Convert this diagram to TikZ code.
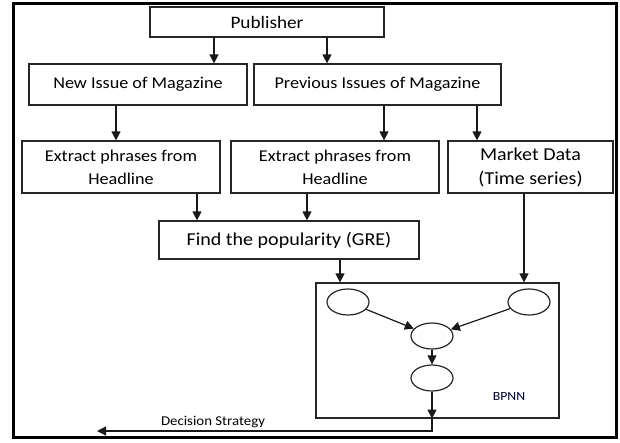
\documentclass[tikz,border=0pt]{standalone}
\usepackage{fontspec}
\setmainfont{Carlito}[FakeStretch=1.1]
\usetikzlibrary{arrows.meta, shapes.geometric}
\tikzset{
  box/.style={draw=black!85, line width=1.2pt, align=center, inner sep=0pt, font=\fontsize{16.5}{23}\selectfont},
  bigbox/.style={box, font=\fontsize{18.2}{24}\selectfont},
  neuron/.style={draw=black!85, line width=1.2pt, ellipse, minimum width=42, minimum height=26, inner sep=0pt},
  arr/.style={draw=black!90, line width=1.2pt, -{Triangle[length=9pt, width=9pt]}},
}
\begin{document}
\begin{tikzpicture}[x=1pt, y=-1pt]
\useasboundingbox (0,0) rectangle (620,442);
\draw [line width=3pt] (13,3) rectangle (616,437);
\node [box, minimum width=234, minimum height=30, font=\fontsize{17.5}{23}\selectfont] (pub) at (267,22) {Publisher};
\node [box, minimum width=218, minimum height=41] (nim) at (138,84.5) {New Issue of Magazine};
\node [box, minimum width=247, minimum height=41] (pim) at (377.5,84.5) {Previous Issues of Magazine};
\node [box, minimum width=198, minimum height=52] (ext1) at (121,167) {Extract phrases from\\Headline};
\node [box, minimum width=208, minimum height=52] (ext2) at (335,167) {Extract phrases from\\Headline};
\node [bigbox, minimum width=165, minimum height=52] (mkt) at (530.5,167) {Market Data\\(Time series)};
\node [bigbox, minimum width=260, minimum height=38] (pop) at (289,240) {Find the popularity (GRE)};
\node [draw=black!85, line width=1.2pt, minimum width=243, minimum height=135] (bpnn) at (437.5,350.5) {};
\node [neuron] (n1) at (348,302) {};
\node [neuron] (n2) at (529,302) {};
\node [neuron] (n3) at (432,336) {};
\node [neuron] (n4) at (432,378) {};
\node [text=black!80!blue, font=\fontsize{12.5}{14}\selectfont] (lbpnn) at (509,396) {BPNN};
\node [font=\fontsize{13.5}{15}\selectfont] (ldec) at (213,422) {Decision Strategy};
\coordinate (out) at (97,431);
% arrows
\draw [arr] (pub.south -| 214,0) -- (nim.north -| 214,0);
\draw [arr] (pub.south -| 327,0) -- (pim.north -| 327,0);
\draw [arr] (nim.south -| 116,0) -- (ext1.north -| 116,0);
\draw [arr] (pim.south -| 384,0) -- (ext2.north -| 384,0);
\draw [arr] (pim.south -| 477,0) -- (mkt.north -| 477,0);
\draw [arr] (ext1.south -| 197,0) -- (pop.north -| 197,0);
\draw [arr] (ext2.south -| 307,0) -- (pop.north -| 307,0);
\draw [arr] (pop.south -| 340,0) -- (bpnn.north -| 340,0);
\draw [arr] (mkt.south -| 524,0) -- (bpnn.north -| 524,0);
\draw [arr] (n1) -- (n3);
\draw [arr] (n2) -- (n3);
\draw [arr] (n3) -- (n4);
\draw [arr] (n4) -- (bpnn.south -| n4);
\draw [arr] (bpnn.south -| n4) -- (n4 |- out) -- (out);
\end{tikzpicture}
\end{document}
